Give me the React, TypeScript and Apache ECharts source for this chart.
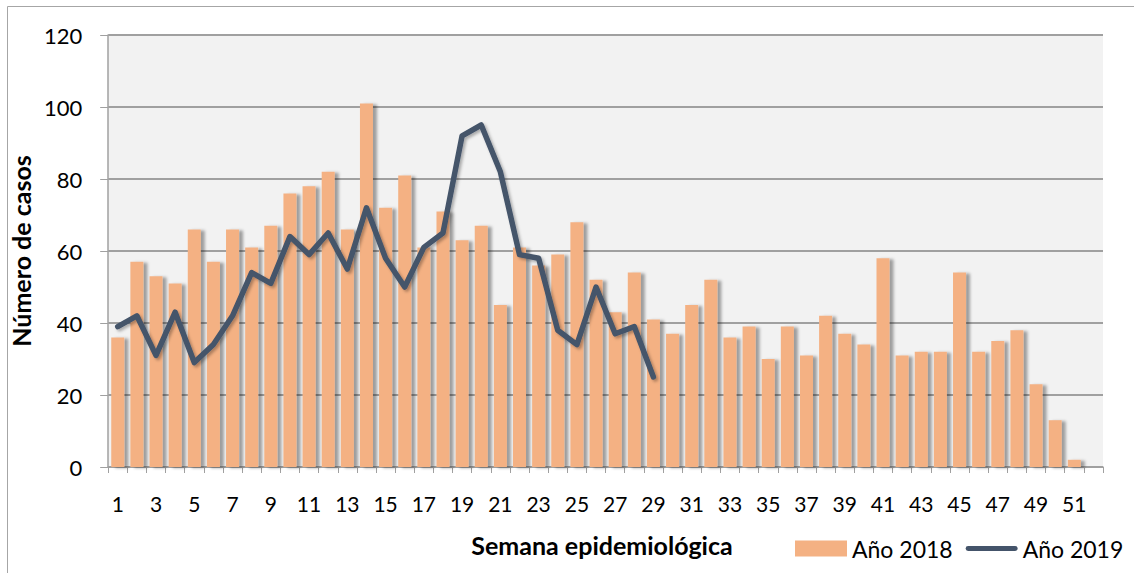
import React, { useEffect, useRef } from "react";
import * as echarts from "echarts";

const weeks: string[] = Array.from({ length: 52 }, (_, i) => String(i + 1));
const cases2018: number[] = [
  36, 57, 53, 51, 66, 57, 66, 61, 67, 76, 78, 82, 66, 101, 72, 81, 61, 71, 63, 67,
  45, 61, 56, 59, 68, 52, 43, 54, 41, 37, 45, 52, 36, 39, 30, 39, 31, 42, 37, 34,
  58, 31, 32, 32, 54, 32, 35, 38, 23, 13, 2, 0,
];
const cases2019: number[] = [
  39, 42, 31, 43, 29, 34, 42, 54, 51, 64, 59, 65, 55, 72, 58, 50, 61, 65, 92, 95,
  82, 59, 58, 38, 34, 50, 37, 39, 25,
];
const FONT = "Lato, 'Liberation Sans', sans-serif";

export default function App() {
  const ref = useRef<HTMLDivElement>(null);
  useEffect(() => {
    if (!ref.current) return;
    const chart = echarts.init(ref.current, null, { renderer: "svg" });
    chart.setOption({
      animation: false,
      backgroundColor: "#ffffff",
      textStyle: { fontFamily: FONT },
      grid: { left: 102, right: 31, top: 35, bottom: 106, show: true, backgroundColor: "#F2F2F2", borderWidth: 0 },
      legend: {
        left: 790,
        top: 532,
        itemWidth: 52,
        itemHeight: 16,
        itemGap: 13,
        textStyle: { fontSize: 23, color: "#000", fontFamily: FONT },
        data: [
          { name: "Año 2018", icon: "rect" },
          { name: "Año 2019", icon: "path://M2,0 H50 A2.5,2.5 0 0 1 50,5 H2 A2.5,2.5 0 0 1 2,0 Z" },
        ],
      },
      xAxis: {
        type: "category",
        data: weeks,
        boundaryGap: true,
        axisLine: { lineStyle: { color: "#A0A0A0", width: 1.5 } },
        axisTick: { show: true, interval: 0, length: 6, lineStyle: { color: "#A0A0A0" } },
        axisLabel: { interval: 1, fontSize: 21, color: "#000", margin: 26, fontFamily: FONT },
      },
      yAxis: {
        type: "value",
        min: 0,
        max: 120,
        interval: 20,
        name: "Número de casos",
        nameLocation: "middle",
        nameGap: 62,
        nameTextStyle: { fontSize: 25, fontWeight: "bold", color: "#000", fontFamily: FONT },
        axisLine: { show: true, lineStyle: { color: "#A0A0A0", width: 1.5 } },
        axisTick: { show: true, length: 8, inside: false, lineStyle: { color: "#A0A0A0" } },
        axisLabel: { fontSize: 22, color: "#000", margin: 26, fontFamily: FONT },
        splitLine: { lineStyle: { color: "#A0A0A0", width: 2 } },
      },
      graphic: [
        {
          type: "rect",
          shape: { x: 7.5, y: 6.5, width: 1200, height: 700 },
          style: { fill: "none", stroke: "#A6A6A6", lineWidth: 1 },
          silent: true,
        },
        {
          type: "text",
          x: 602,
          y: 545,
          style: {
            text: "Semana epidemiológica",
            fontSize: 25,
            fontWeight: "bold",
            fill: "#000",
            fontFamily: FONT,
            align: "center",
            verticalAlign: "middle",
          },
        },
      ],
      series: [
        {
          name: "Año 2018",
          type: "bar",
          data: cases2018,
          barWidth: 13,
          itemStyle: {
            color: "#F4B183",
            shadowColor: "rgba(0,0,0,0.35)",
            shadowBlur: 3,
            shadowOffsetX: 4,
            shadowOffsetY: 1,
          },
        },
        {
          name: "Año 2019",
          type: "line",
          data: cases2019,
          symbol: "none",
          showSymbol: false,
          lineStyle: {
            color: "#44546A",
            width: 5.5,
            cap: "round",
            join: "round",
            shadowColor: "rgba(0,0,0,0.3)",
            shadowBlur: 3,
            shadowOffsetX: 2,
            shadowOffsetY: 2,
          },
          itemStyle: { color: "#44546A" },
          z: 5,
        },
      ],
    });
    return () => chart.dispose();
  }, []);
  return (
    <div
      ref={ref}
      style={{ position: "absolute", left: 0, top: 0, width: 1134, height: 573 }}
    />
  );
}
